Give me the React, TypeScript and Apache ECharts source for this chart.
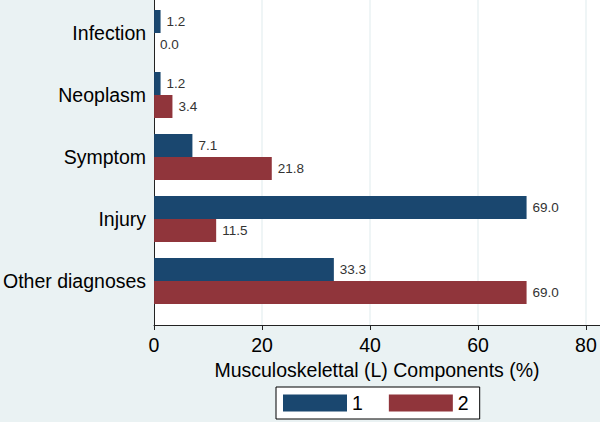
import React, { useEffect, useRef } from "react";
import * as echarts from "echarts";

const categories = ["Infection", "Neoplasm", "Symptom", "Injury", "Other diagnoses"];
const series1 = [1.2, 1.2, 7.1, 69.0, 33.3];
const series2 = [0.0, 3.4, 21.8, 11.5, 69.0];
const seriesNames = ["1", "2"];
const xTicks = [0, 20, 40, 60, 80];
const xTitle = "Musculoskelettal (L) Components (%)";

const FONT = "'Liberation Sans', Arial, sans-serif";
const BLUE = "#1a476f";
const RED = "#90353b";
const BG = "#eaf2f3";
const XMAX = 82.6;

export default function App() {
  const ref = useRef<HTMLDivElement>(null);
  useEffect(() => {
    if (!ref.current) return;
    const chart = echarts.init(ref.current, null, { renderer: "svg" });
    const labelCfg = {
      show: true,
      position: "right",
      distance: 6,
      fontSize: 13.5,
      fontFamily: FONT,
      color: "#333",
      formatter: (p: any) => Number(p.value).toFixed(1),
    };
    chart.setOption({
      animation: false,
      backgroundColor: BG,
      textStyle: { fontFamily: FONT },
      grid: [
        {
          left: 154,
          right: 0,
          top: 0,
          height: 325,
          show: true,
          backgroundColor: "#fff",
          borderWidth: 0,
        },
        {
          left: 154,
          right: 0,
          top: 2,
          height: 310,
        },
      ],
      xAxis: [
        {
          type: "value",
          gridIndex: 0,
          min: 0,
          max: XMAX,
          interval: 20,
          axisLine: { show: true, lineStyle: { color: "#222", width: 1 } },
          axisTick: {
            show: true,
            length: 5,
            lineStyle: { color: "#222" },
            customValues: xTicks,
          },
          axisLabel: {
            fontSize: 19.5,
            color: "#000",
            fontFamily: FONT,
            margin: 10,
            customValues: xTicks,
          },
          splitLine: { show: true, lineStyle: { color: BG, width: 1.5 } },
          name: xTitle,
          nameLocation: "middle",
          nameGap: 33,
          nameTextStyle: { fontSize: 19.5, color: "#000", fontFamily: FONT },
        },
        {
          type: "value",
          gridIndex: 1,
          min: 0,
          max: XMAX,
          show: false,
        },
      ],
      yAxis: [
        {
          type: "value",
          gridIndex: 0,
          min: 0,
          max: 1,
          axisLine: { show: true, lineStyle: { color: "#222", width: 1 } },
          axisTick: { show: false },
          axisLabel: { show: false },
          splitLine: { show: false },
        },
        {
          type: "category",
          gridIndex: 1,
          data: categories,
          inverse: true,
          axisLine: { show: false },
          axisTick: { show: false },
          axisLabel: {
            fontSize: 19.5,
            color: "#000",
            fontFamily: FONT,
            margin: 8,
          },
          splitLine: { show: false },
        },
      ],
      legend: {
        data: seriesNames,
        left: 276,
        top: 387,
        orient: "horizontal",
        icon: "rect",
        itemWidth: 64,
        itemHeight: 17,
        itemGap: 26,
        padding: [6, 11, 6, 7],
        borderColor: "#000",
        borderWidth: 1,
        borderRadius: 0,
        backgroundColor: "#fff",
        textStyle: { fontSize: 19.5, color: "#000", fontFamily: FONT },
      },
      series: [
        {
          name: seriesNames[0],
          type: "bar",
          xAxisIndex: 1,
          yAxisIndex: 1,
          data: series1,
          barWidth: 23,
          barGap: "0%",
          itemStyle: { color: BLUE },
          label: labelCfg,
        },
        {
          name: seriesNames[1],
          type: "bar",
          xAxisIndex: 1,
          yAxisIndex: 1,
          data: series2,
          barWidth: 23,
          barGap: "0%",
          itemStyle: { color: RED },
          label: labelCfg,
        },
      ],
    });
    return () => chart.dispose();
  }, []);
  return (
    <div
      ref={ref}
      style={{ position: "fixed", left: 0, top: 0, width: 600, height: 422 }}
    />
  );
}
